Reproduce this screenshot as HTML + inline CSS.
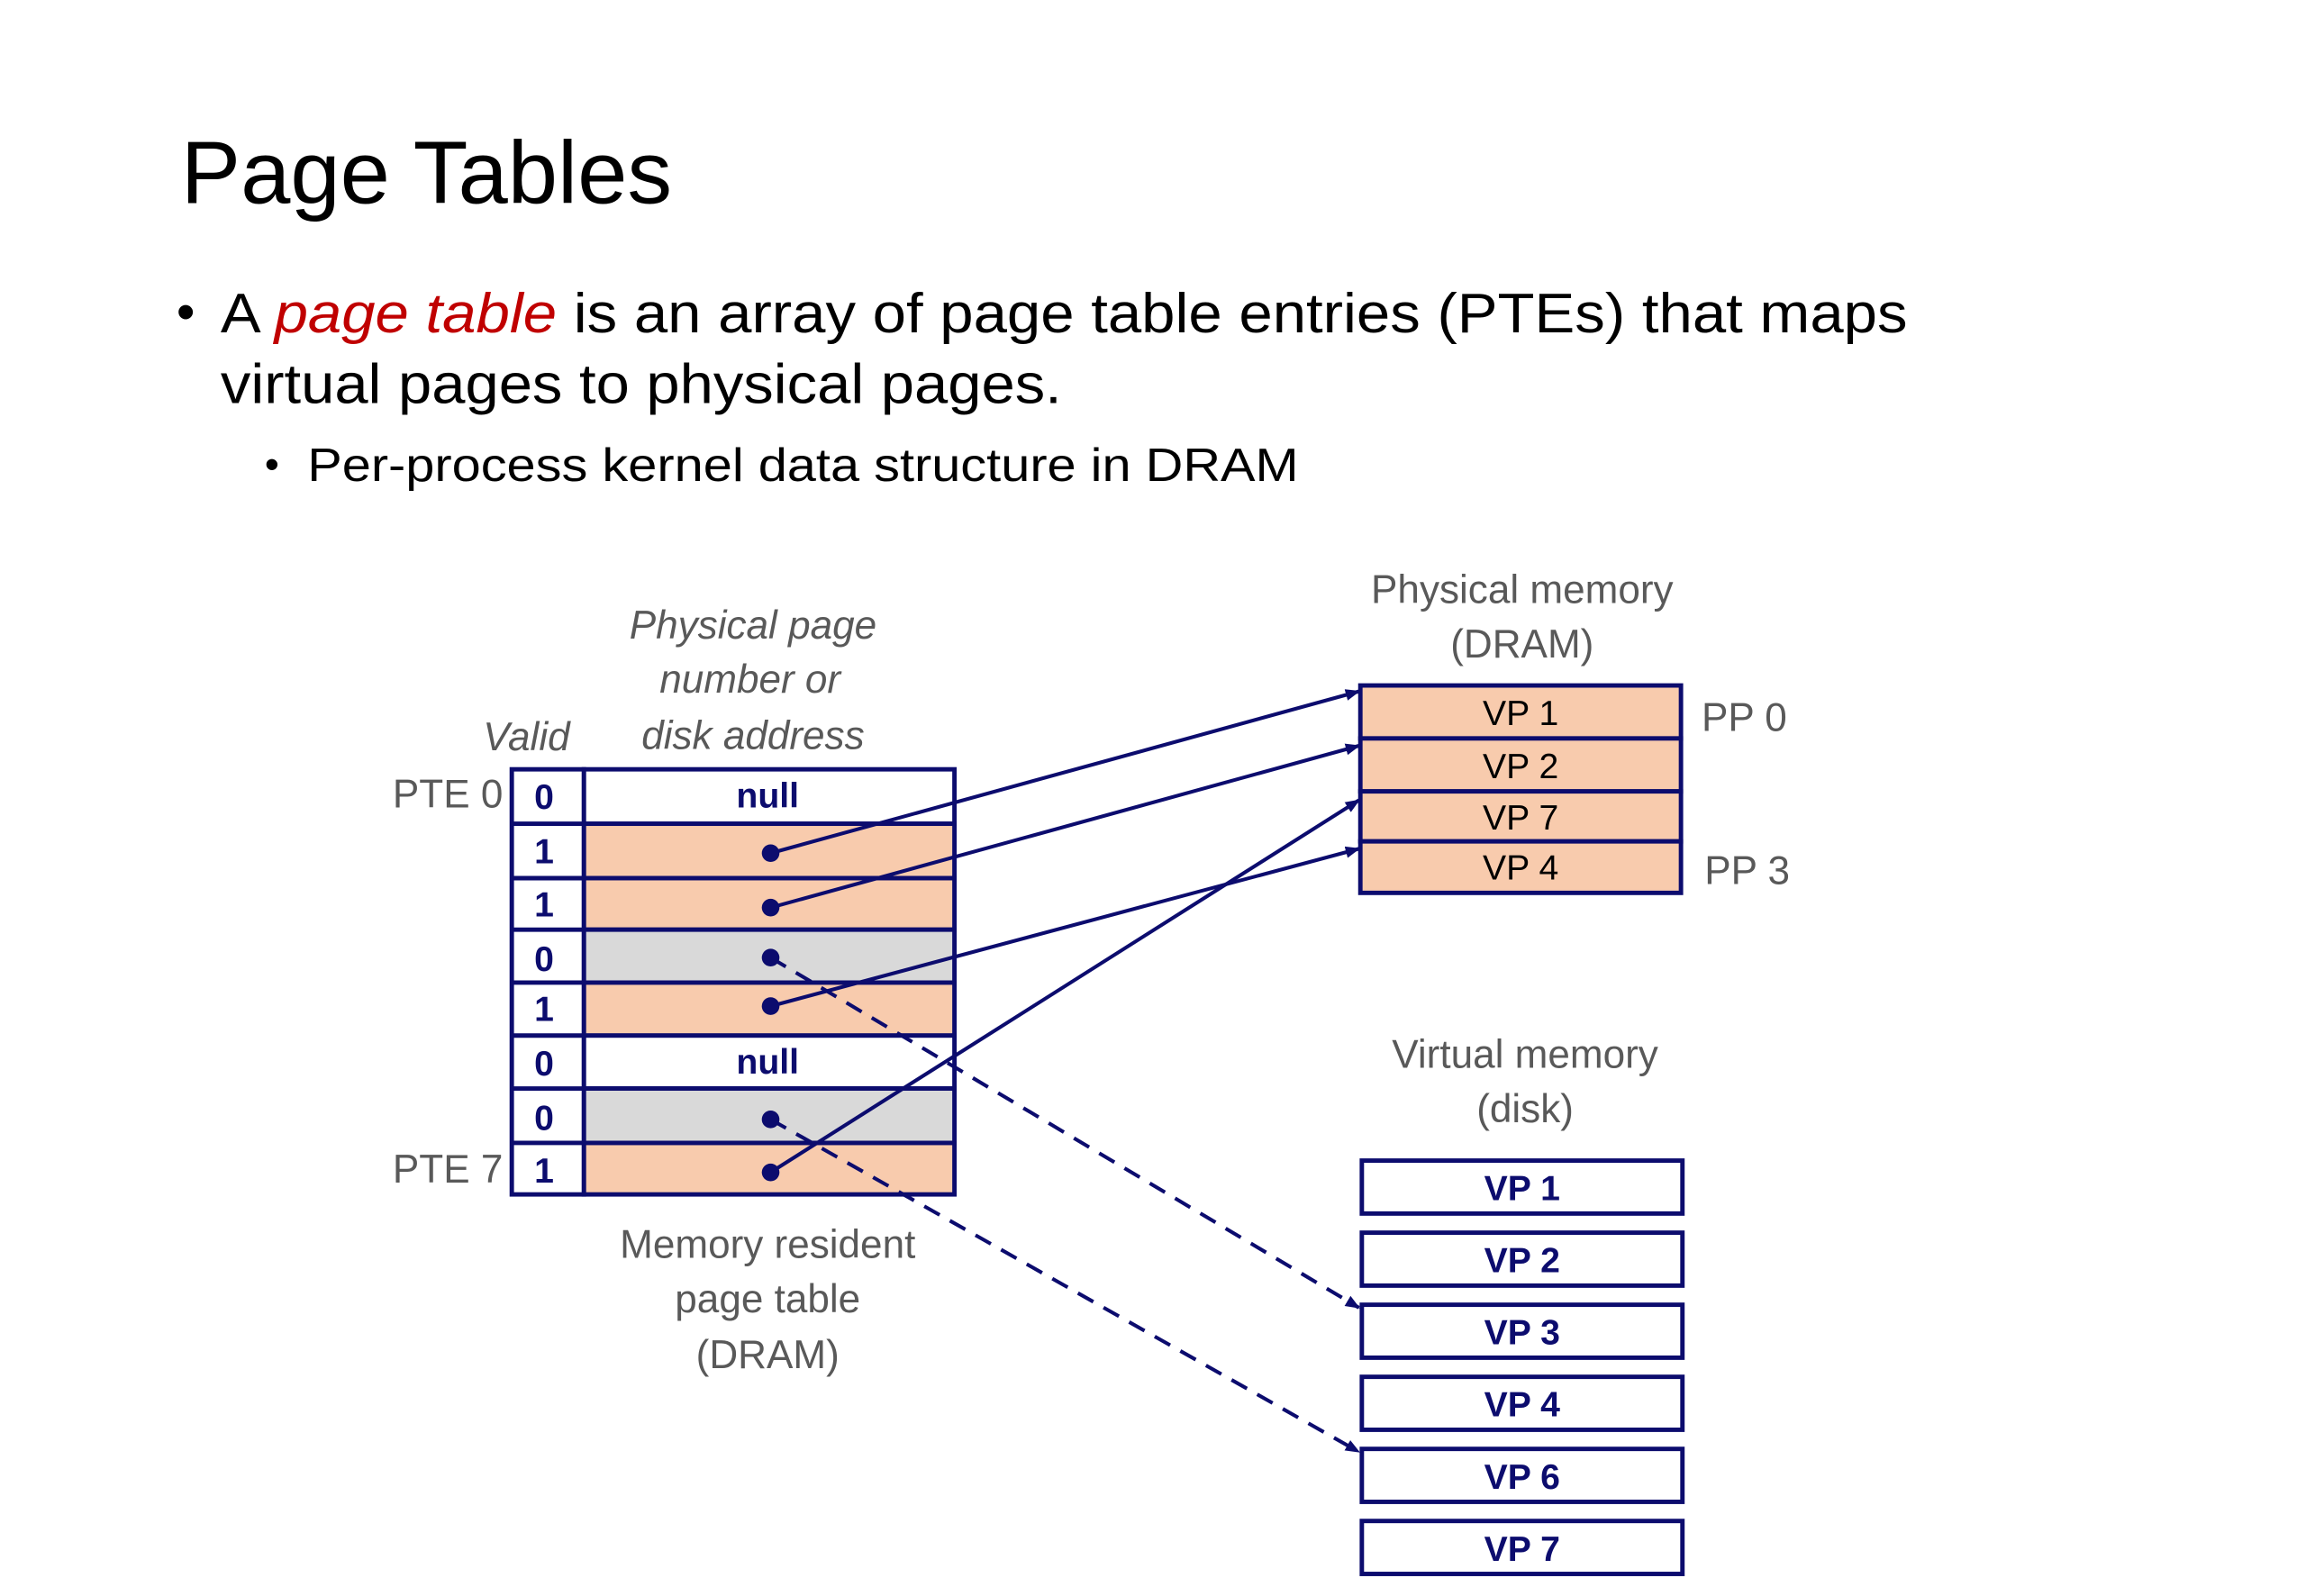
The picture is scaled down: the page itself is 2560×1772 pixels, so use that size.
<!DOCTYPE html>
<html><head><meta charset="utf-8"><style>
html,body{margin:0;padding:0;background:#fff;}
svg{display:block;}
text{font-family:"Liberation Sans",sans-serif;}
</style></head><body>
<svg width="2560" height="1772" viewBox="0 0 1568 1085" preserveAspectRatio="none" xmlns="http://www.w3.org/2000/svg">
<defs>
<marker id="ar" markerWidth="10" markerHeight="8" refX="9" refY="4" orient="auto" markerUnits="userSpaceOnUse">
<path d="M0,0 L10,4 L0,8 Z" fill="#0c0c6e"/>
</marker>
</defs>
<text x="123" y="138" font-size="60" fill="#000" textLength="334" lengthAdjust="spacingAndGlyphs">Page Tables</text>
<text x="120" y="224" font-size="36" fill="#000">•</text>
<text x="150" y="226" font-size="38" fill="#000" textLength="1147" lengthAdjust="spacingAndGlyphs">A <tspan fill="#c00000" font-style="italic">page table</tspan> is an array of page table entries (PTEs) that maps</text>
<text x="150" y="274" font-size="38" fill="#000" textLength="572" lengthAdjust="spacingAndGlyphs">virtual pages to physical pages.</text>
<text x="180" y="325" font-size="28" fill="#000">•</text>
<text x="209" y="327" font-size="32" fill="#000" textLength="674" lengthAdjust="spacingAndGlyphs">Per-process kernel data structure in DRAM</text>

<g font-size="27" fill="#595959" text-anchor="middle">
<text x="512" y="434" font-style="italic">Physical page</text>
<text x="510" y="471" font-style="italic">number or</text>
<text x="512" y="509" font-style="italic">disk address</text>
<text x="358" y="510" font-style="italic">Valid</text>
<text x="1035" y="410">Physical memory</text>
<text x="1035" y="447">(DRAM)</text>
<text x="1037" y="726">Virtual memory</text>
<text x="1037" y="763">(disk)</text>
<text x="522" y="855">Memory resident</text>
<text x="522" y="892">page table</text>
<text x="522" y="930">(DRAM)</text>
</g>
<g font-size="27" fill="#595959">
<text x="267" y="549">PTE 0</text>
<text x="267" y="804">PTE 7</text>
<text x="1157" y="497">PP 0</text>
<text x="1159" y="601">PP 3</text>
</g>

<g stroke="#0c0c6e" stroke-width="3">
<rect x="397" y="523" width="252" height="37" fill="#fff"/>
<rect x="397" y="560" width="252" height="37" fill="#f8cbad"/>
<rect x="397" y="597" width="252" height="35" fill="#f8cbad"/>
<rect x="397" y="632" width="252" height="36" fill="#d9d9d9"/>
<rect x="397" y="668" width="252" height="36" fill="#f8cbad"/>
<rect x="397" y="704" width="252" height="36" fill="#fff"/>
<rect x="397" y="740" width="252" height="37" fill="#d9d9d9"/>
<rect x="397" y="777" width="252" height="35" fill="#f8cbad"/>
<rect x="348" y="523" width="49" height="289" fill="#fff"/>
<line x1="348" y1="560" x2="397" y2="560"/><line x1="348" y1="597" x2="397" y2="597"/>
<line x1="348" y1="632" x2="397" y2="632"/><line x1="348" y1="668" x2="397" y2="668"/>
<line x1="348" y1="704" x2="397" y2="704"/><line x1="348" y1="740" x2="397" y2="740"/>
<line x1="348" y1="777" x2="397" y2="777"/>
</g>
<g font-size="24" font-weight="bold" fill="#0c0c6e" text-anchor="middle">
<text x="370" y="550">0</text><text x="370" y="587">1</text><text x="370" y="623">1</text>
<text x="370" y="660">0</text><text x="370" y="694">1</text><text x="370" y="731">0</text>
<text x="370" y="768">0</text><text x="370" y="804">1</text>
<text x="522" y="549">null</text><text x="522" y="730">null</text>
</g>

<g stroke="#0c0c6e" stroke-width="3" fill="#f8cbad">
<rect x="925" y="466" width="218" height="36"/>
<rect x="925" y="502" width="218" height="36"/>
<rect x="925" y="538" width="218" height="34"/>
<rect x="925" y="572" width="218" height="35"/>
</g>
<g font-size="24" fill="#000" text-anchor="middle">
<text x="1034" y="493">VP 1</text><text x="1034" y="529">VP 2</text>
<text x="1034" y="564">VP 7</text><text x="1034" y="598">VP 4</text>
</g>

<g stroke="#0c0c6e" stroke-width="3" fill="#fff">
<rect x="926" y="789" width="218" height="36"/>
<rect x="926" y="838" width="218" height="36"/>
<rect x="926" y="887" width="218" height="36"/>
<rect x="926" y="936" width="218" height="36"/>
<rect x="926" y="985" width="218" height="36"/>
<rect x="926" y="1034" width="218" height="36"/>
</g>
<g font-size="24" font-weight="bold" fill="#0c0c6e" text-anchor="middle">
<text x="1035" y="816">VP 1</text><text x="1035" y="865">VP 2</text>
<text x="1035" y="914">VP 3</text><text x="1035" y="963">VP 4</text>
<text x="1035" y="1012">VP 6</text><text x="1035" y="1061">VP 7</text>
</g>

<g stroke="#0c0c6e" stroke-width="2.5" fill="none">
<line x1="524" y1="580" x2="924" y2="470" marker-end="url(#ar)"/>
<line x1="524" y1="617" x2="924" y2="507" marker-end="url(#ar)"/>
<line x1="524" y1="684" x2="924" y2="577" marker-end="url(#ar)"/>
<line x1="524" y1="797" x2="924" y2="544" marker-end="url(#ar)"/>
<line x1="524" y1="651" x2="924" y2="889" stroke-dasharray="12,8" marker-end="url(#ar)"/>
<line x1="524" y1="761" x2="924" y2="987" stroke-dasharray="12,8" marker-end="url(#ar)"/>
</g>
<g fill="#0c0c6e">
<circle cx="524" cy="580" r="6"/><circle cx="524" cy="617" r="6"/>
<circle cx="524" cy="651" r="6"/><circle cx="524" cy="684" r="6"/>
<circle cx="524" cy="761" r="6"/><circle cx="524" cy="797" r="6"/>
</g>
</svg>
</body></html>
